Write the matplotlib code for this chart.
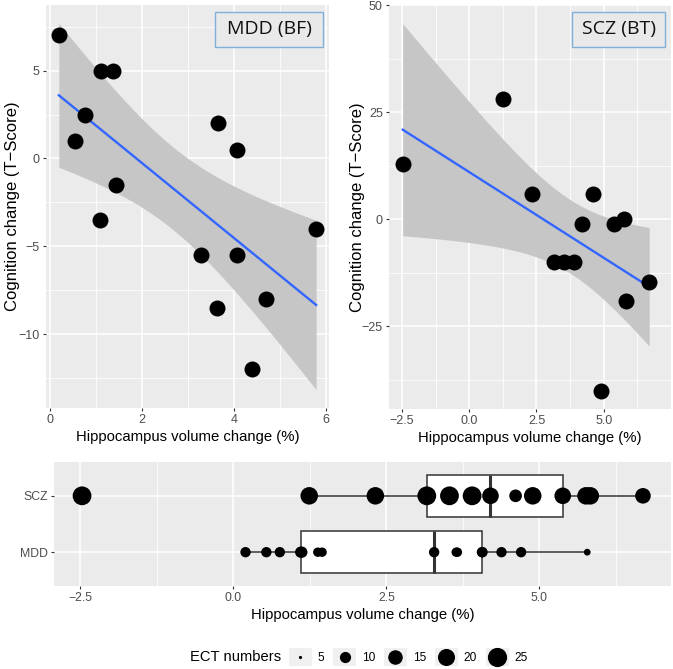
import numpy as np
import matplotlib
matplotlib.use("Agg")
import matplotlib.pyplot as plt
from matplotlib.patches import Rectangle
from matplotlib.lines import Line2D
from matplotlib.legend_handler import HandlerBase

plt.rcParams["font.family"] = ["Liberation Sans", "DejaVu Sans"]

# ── data ─────────────────────────────────────────────────────────────────────
mdd_hippo = [0.20, 1.12, 1.38, 0.76, 0.54, 1.45, 1.10, 3.66, 4.07, 5.78, 3.28, 4.06, 4.70, 3.64, 4.38]
mdd_cog = [7.0, 5.0, 5.0, 2.5, 1.0, -1.5, -3.5, 2.0, 0.5, -4.0, -5.5, -5.5, -8.0, -8.5, -12.0]
mdd_ect = [9, 10, 8, 9, 9, 8, 10, 8, 9, 6, 9, 9, 9, 8, 9]

scz_hippo = [-2.47, 1.24, 2.32, 4.61, 4.20, 5.38, 5.76, 3.16, 3.53, 3.90, 6.69, 5.83, 4.89]
scz_cog = [13, 28, 6, 6, -1.2, -1.2, 0, -10, -10, -10, -14.7, -19, -40]
scz_ect = [24, 21, 21, 12, 19, 19, 21, 24, 24, 24, 17, 21, 21]

groups = ["MDD", "SCZ"]
panel_labels = ["MDD (BF)", "SCZ (BT)"]
ect_breaks = [5, 10, 15, 20, 25]

# t quantiles (97.5%) for the 95% band of the linear fit
T975 = {11: 2.2010, 13: 2.1604}

PANEL_BG = "#EBEBEB"
TICK_COL = "#4D4D4D"
W, H = 673, 669


def ect_to_ms(v, lo=5, hi=25):
    # ggplot-like area scale, 1..6 mm, ~3.2 px per mm
    frac = np.clip((np.asarray(v, float) - lo) / (hi - lo), 0, 1)
    mm = 1 + 5 * np.sqrt(frac)
    return mm * 3.2 * 0.72


def lm_band(x, y, n_grid=80):
    x = np.asarray(x, float)
    y = np.asarray(y, float)
    n = len(x)
    slope, icpt = np.polyfit(x, y, 1)
    xs = np.linspace(x.min(), x.max(), n_grid)
    fit = icpt + slope * xs
    resid = y - (icpt + slope * x)
    s = np.sqrt(np.sum(resid ** 2) / (n - 2))
    se = s * np.sqrt(1 / n + (xs - x.mean()) ** 2 / np.sum((x - x.mean()) ** 2))
    t = T975[n - 2]
    return xs, fit, fit - t * se, fit + t * se


def expand(lo, hi, f=0.05):
    r = hi - lo
    return lo - f * r, hi + f * r


def style(ax, tick_size=9):
    ax.set_facecolor(PANEL_BG)
    for sp in ax.spines.values():
        sp.set_visible(False)
    ax.set_axisbelow(True)
    ax.grid(which="major", color="white", linewidth=1.1)
    ax.grid(which="minor", color="white", linewidth=0.55)
    ax.tick_params(which="major", length=2.5, width=0.8, color="#333333",
                   labelcolor=TICK_COL, labelsize=tick_size, pad=2)
    ax.tick_params(which="minor", length=0)


def fig_rect(x0, y0, x1, y1):
    return [x0 / W, 1 - y1 / H, (x1 - x0) / W, (y1 - y0) / H]


def label_box(ax, text, x0, w, y0=0.896, h=0.087):
    ax.add_patch(Rectangle((x0, y0), w, h, transform=ax.transAxes, facecolor="#E9E9E9",
                           edgecolor="#7FB0DA", linewidth=1.0, zorder=5))
    ax.text(x0 + w / 2, y0 + h / 2, text, transform=ax.transAxes, ha="center", va="center",
            fontsize=14, family=["Open Sans", "DejaVu Sans"], color="#111111", zorder=6)


fig = plt.figure(figsize=(W / 100, H / 100), dpi=100)

# ── top left: MDD ────────────────────────────────────────────────────────────
ax1 = fig.add_axes(fig_rect(46, 5, 329, 408))
style(ax1)
xs, fit, lo, hi = lm_band(mdd_hippo, mdd_cog)
ax1.fill_between(xs, lo, hi, color="#C6C6C6", linewidth=0, zorder=2)
ax1.plot(xs, fit, color="#3366FF", linewidth=1.7, zorder=3)
ax1.scatter(mdd_hippo, mdd_cog, s=11.5 ** 2, color="black", linewidths=0, zorder=4)
ax1.set_xlim(*expand(min(mdd_hippo), max(mdd_hippo)))
ax1.set_ylim(*expand(min(min(mdd_cog), lo.min()), max(max(mdd_cog), hi.max())))
ax1.set_xticks([0, 2, 4, 6])
ax1.set_xticks([1, 3, 5], minor=True)
ax1.set_yticks([-10, -5, 0, 5])
ax1.set_yticks([-12.5, -7.5, -2.5, 2.5, 7.5], minor=True)
ax1.set_yticklabels(["\u221210", "\u22125", "0", "5"])
ax1.set_xlabel("Hippocampus volume change (%)", fontsize=10.7, labelpad=3)
ax1.set_ylabel("Cognition change (T\u2212Score)", fontsize=12)
ax1.yaxis.set_label_coords(-0.093, 0.5)
label_box(ax1, panel_labels[0], 0.597, 0.382)

# ── top right: SCZ ───────────────────────────────────────────────────────────
ax2 = fig.add_axes(fig_rect(389, 5, 671, 409))
style(ax2)
xs, fit, lo, hi = lm_band(scz_hippo, scz_cog)
ax2.fill_between(xs, lo, hi, color="#C6C6C6", linewidth=0, zorder=2)
ax2.plot(xs, fit, color="#3366FF", linewidth=1.7, zorder=3)
ax2.scatter(scz_hippo, scz_cog, s=11.5 ** 2, color="black", linewidths=0, zorder=4)
ax2.set_xlim(-2.98, 7.5)
ax2.set_ylim(*expand(min(min(scz_cog), lo.min()), max(max(scz_cog), hi.max())))
ax2.set_xticks([-2.5, 0, 2.5, 5])
ax2.set_xticks([-1.25, 1.25, 3.75, 6.25], minor=True)
ax2.set_xticklabels(["\u22122.5", "0.0", "2.5", "5.0"])
ax2.set_yticks([-25, 0, 25, 50])
ax2.set_yticks([-37.5, -12.5, 12.5, 37.5], minor=True)
ax2.set_yticklabels(["\u221225", "0", "25", "50"])
ax2.set_xlabel("Hippocampus volume change (%)", fontsize=10.7, labelpad=3)
ax2.set_ylabel("Cognition change (T\u2212Score)", fontsize=12)
ax2.yaxis.set_label_coords(-0.085, 0.5)
label_box(ax2, panel_labels[1], 0.649, 0.330)

# ── bottom: box plot by group ────────────────────────────────────────────────
ax3 = fig.add_axes(fig_rect(54, 462, 671, 586))
style(ax3, tick_size=8.8)
ax3.grid(which="minor", axis="y", visible=False)
data = [mdd_hippo, scz_hippo]
ects = [mdd_ect, scz_ect]
ax3.boxplot(data, positions=[1, 2], widths=0.75, orientation="horizontal", whis=1.5,
            showcaps=False, showfliers=False, patch_artist=True,
            boxprops=dict(facecolor="white", edgecolor="#333333", linewidth=1.1),
            whiskerprops=dict(color="#333333", linewidth=1.1),
            medianprops=dict(color="#333333", linewidth=2.2))
for pos, (xv, ev) in enumerate(zip(data, ects), start=1):
    ax3.scatter(xv, [pos] * len(xv), s=ect_to_ms(ev) ** 2, color="black", linewidths=0, zorder=4)
all_x = mdd_hippo + scz_hippo
ax3.set_xlim(*expand(min(all_x), max(all_x)))
ax3.set_ylim(0.4, 2.6)
ax3.set_yticks([1, 2])
ax3.set_yticklabels(groups)
ax3.set_xticks([-2.5, 0, 2.5, 5])
ax3.set_xticks([-1.25, 1.25, 3.75, 6.25], minor=True)
ax3.set_xticklabels(["\u22122.5", "0.0", "2.5", "5.0"])
ax3.set_xlabel("Hippocampus volume change (%)", fontsize=10.7, labelpad=3)


# ── legend for ECT numbers ───────────────────────────────────────────────────
class KeyHandler(HandlerBase):
    def create_artists(self, legend, orig_handle, xdescent, ydescent, width, height, fontsize, trans):
        bg = Rectangle((-xdescent, -ydescent), width, height, facecolor="#F0F0F0",
                       edgecolor="none", transform=trans)
        dot = Line2D([width / 2 - xdescent], [height / 2 - ydescent], marker="o", ls="",
                     color="black", markeredgewidth=0, ms=orig_handle.get_markersize(),
                     transform=trans)
        return [bg, dot]


handles = [Line2D([], [], marker="o", ls="", color="black", ms=float(ect_to_ms(b)))
           for b in ect_breaks]
fig.text(236 / W, 1 - 657 / H, "ECT numbers", ha="center", va="center", fontsize=10.6)
fig.legend(handles, [str(b) for b in ect_breaks], handler_map={Line2D: KeyHandler()},
           ncol=5, loc="center left", bbox_to_anchor=(289 / W, 1 - 657 / H),
           frameon=False, fontsize=8.6, handlelength=1.9, handleheight=1.9,
           handletextpad=0.5, columnspacing=0.75, borderpad=0, borderaxespad=0)

fig.savefig("out.png", dpi=100)
